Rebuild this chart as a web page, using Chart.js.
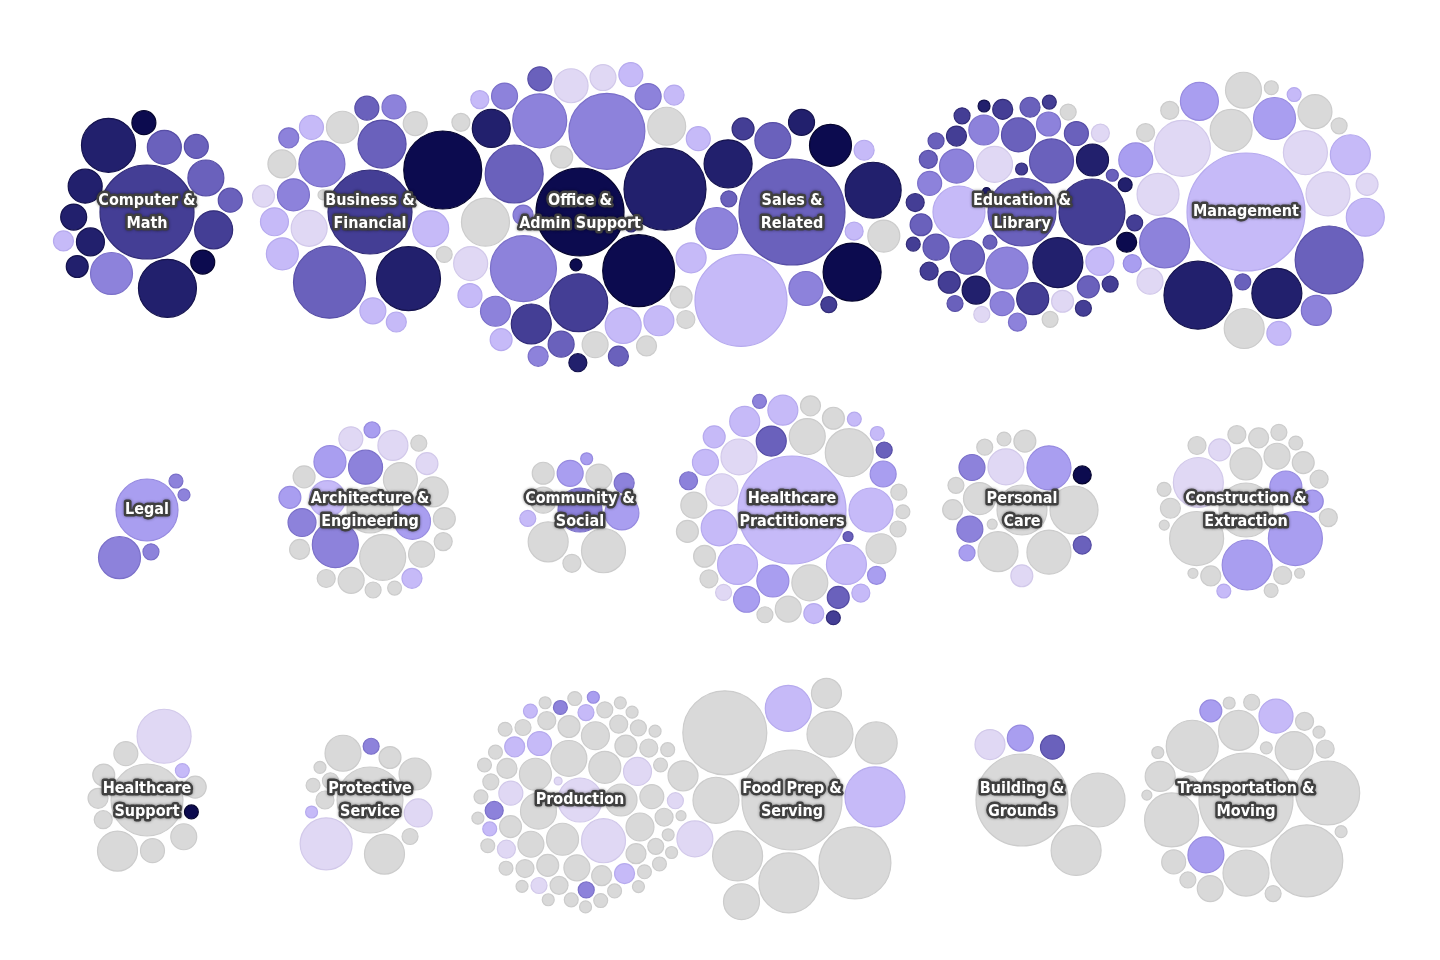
<!DOCTYPE html>
<html>
<head>
<meta charset="utf-8">
<title>Occupations by group</title>
<script src="https://cdn.jsdelivr.net/npm/chart.js@4.4.0/dist/chart.umd.min.js"></script>
<style>
  html, body { margin: 0; padding: 0; background: #fff; }
  #wrap { width: 1440px; height: 960px; }
</style>
</head>
<body>
<div id="wrap"><canvas id="chart" width="1440" height="960"></canvas></div>
<script>
// occupation groups, one cluster each
const categories = [
  'Computer &\nMath', 'Business &\nFinancial', 'Office &\nAdmin Support', 'Sales &\nRelated', 'Education &\nLibrary', 'Management',
  'Legal', 'Architecture &\nEngineering', 'Community &\nSocial', 'Healthcare\nPractitioners', 'Personal\nCare', 'Construction &\nExtraction',
  'Healthcare\nSupport', 'Protective\nService', 'Production', 'Food Prep &\nServing', 'Building &\nGrounds', 'Transportation &\nMoving'
];

// employment per occupation, thousands (bubble area)
const employment = [
  [1414, 538, 467, 77, 92, 125, 92, 64, 108, 92, 207, 185, 185, 92, 231, 282],
  [973, 1129, 829, 655, 369, 207, 125, 339, 125, 92, 108, 92, 77, 164, 92, 207, 164, 164, 64, 16, 64, 92],
  [1239, 697, 829, 538, 369, 185, 92, 77, 64, 231, 108, 23, 92, 64, 467, 144, 144, 144, 52, 108, 108, 52, 64, 1076, 924, 538, 256, 207, 185, 231, 108, 108, 52, 23, 41, 77, 92, 41, 92, 64, 64, 52, 77],
  [538, 369, 1354, 502, 282, 41, 108, 207, 185, 1798, 77, 164, 282, 52, 64],
  [400, 697, 207, 185, 185, 144, 185, 52, 23, 77, 164, 52, 31, 77, 31, 740, 52, 64, 92, 52, 92, 125, 41, 310, 41, 41, 52, 92, 77, 64, 164, 41, 92, 41, 23, 10, 41, 23, 41, 31, 31, 41, 41, 64, 282, 125, 433, 108, 77],
  [256, 400, 185, 310, 740, 92, 144, 207, 64, 231, 52, 31, 185, 310, 77, 52, 41, 282, 108, 282, 41, 231, 282, 502, 31, 2228, 256, 52, 400, 740],
  [615, 282, 41, 31, 23],
  [207, 77, 144, 185, 339, 207, 77, 41, 185, 164, 125, 339, 108, 64, 52, 77, 64, 108, 339, 77, 31, 41, 92, 52, 41, 144],
  [108, 310, 185, 108, 77, 310, 256, 23, 41, 64, 108, 52],
  [1866, 77, 207, 256, 310, 144, 64, 52, 108, 144, 77, 41, 256, 144, 41, 77, 41, 52, 144, 41, 207, 77, 108, 207, 52, 64, 31, 52, 164, 108, 31, 31, 16, 31, 31, 41, 77, 108, 207, 108, 164, 369],
  [207, 310, 310, 31, 108, 108, 52, 400, 369, 52, 77, 16, 41, 41, 256, 164, 41, 77, 64],
  [467, 467, 400, 400, 467, 164, 164, 52, 31, 77, 64, 16, 41, 16, 31, 64, 31, 108, 52, 52, 52, 77, 16, 31, 52, 77, 64],
  [467, 92, 77, 31, 256, 829, 77, 31, 52, 108, 92, 64],
  [207, 77, 41, 125, 23, 256, 41, 31, 433, 164, 697, 41, 52, 23],
  [125, 207, 92, 108, 52, 77, 92, 41, 31, 31, 41, 108, 31, 23, 310, 52, 77, 41, 23, 31,
   31, 23, 164, 77, 23, 23, 23, 31, 92, 31, 52, 41, 64, 41, 31, 41, 23, 31, 23, 31,
   41, 64, 31, 31, 64, 10, 125, 31, 52, 23, 16, 125, 52, 77, 31, 52, 31, 64, 310, 52,
   41, 23, 31, 64, 207, 23, 164, 164, 164, 41, 52, 23, 31],
  [576, 1600, 576, 339, 144, 1129, 339, 282, 144, 207, 400, 207, 829, 339],
  [400, 467, 92, 1354, 144, 108],
  [829, 207, 92, 52, 41, 108, 144, 655, 256, 41, 52, 41, 23, 1414, 467, 77, 23, 16, 339, 52, 23, 23, 23, 185, 433, 231]
];

// colour bin per occupation: 0 = darkest ... 7 = palest, 8 = grey
const riskBin = [
  [2, 1, 1, 1, 0, 1, 3, 6, 1, 3, 3, 3, 1, 0, 2, 4],
  [0, 2, 3, 1, 3, 7, 6, 4, 8, 8, 6, 6, 7, 4, 3, 6, 8, 6, 4, 8, 6, 4],
  [0, 4, 0, 3, 8, 7, 6, 8, 4, 1, 3, 0, 3, 3, 4, 6, 4, 6, 8, 8, 4, 6, 8, 1, 4, 2, 2, 6, 7, 8, 7, 4, 1, 2, 8, 8, 6, 3, 6, 6, 4, 8, 6],
  [0, 1, 6, 1, 4, 2, 1, 3, 4, 3, 2, 8, 0, 6, 6],
  [1, 2, 7, 3, 3, 4, 4, 2, 2, 7, 2, 3, 3, 3, 1, 3, 2, 2, 4, 4, 4, 1, 7, 3, 8, 8, 7, 3, 2, 2, 1, 3, 4, 2, 3, 1, 2, 1, 3, 2, 2, 2, 2, 3, 4, 6, 6, 3, 3],
  [8, 4, 8, 7, 1, 6, 4, 8, 0, 6, 5, 8, 5, 7, 7, 8, 3, 8, 7, 7, 8, 5, 5, 7, 6, 6, 6, 8, 1, 3],
  [5, 4, 4, 4, 4],
  [5, 7, 8, 8, 8, 6, 8, 8, 4, 5, 4, 4, 8, 6, 8, 8, 8, 8, 8, 5, 8, 5, 7, 8, 8, 7],
  [8, 4, 5, 5, 8, 8, 8, 5, 6, 4, 8, 8],
  [6, 3, 7, 6, 6, 3, 6, 5, 5, 8, 8, 7, 6, 6, 8, 8, 8, 4, 6, 8, 8, 8, 8, 8, 6, 8, 6, 8, 7, 6, 8, 4, 3, 6, 2, 3, 6, 8, 6, 5, 5, 8],
  [7, 8, 5, 8, 4, 4, 3, 8, 8, 0, 7, 8, 5, 8, 8, 8, 8, 8, 8],
  [8, 5, 5, 7, 8, 5, 8, 8, 8, 7, 8, 8, 8, 8, 6, 8, 8, 8, 8, 8, 8, 5, 8, 8, 8, 8, 8],
  [7, 8, 8, 0, 8, 8, 8, 6, 8, 8, 8, 8],
  [8, 8, 8, 7, 6, 8, 4, 8, 7, 8, 8, 8, 8, 8],
  [7, 8, 6, 8, 8, 8, 7, 6, 8, 4, 8, 8, 6, 8, 7, 8, 8, 4, 8, 8,
   8, 8, 8, 8, 8, 5, 8, 8, 8, 8, 8, 8, 8, 8, 8, 8, 8, 8, 8, 8,
   8, 8, 8, 8, 8, 7, 8, 6, 8, 8, 8, 8, 4, 8, 8, 8, 8, 6, 7, 8,
   7, 8, 8, 6, 8, 8, 8, 8, 8, 7, 7, 8, 8],
  [8, 8, 6, 8, 8, 8, 8, 8, 8, 7, 8, 8, 8, 6],
  [8, 8, 3, 8, 7, 5],
  [8, 5, 8, 8, 8, 8, 8, 8, 8, 8, 8, 8, 8, 8, 8, 5, 8, 8, 8, 8, 8, 8, 8, 6, 8, 8]
];

const binFill = ['#0c0b4f', '#22206d', '#443e95', '#6a61bc', '#8d82db', '#a99ef0', '#c6baf8', '#e0d8f4', '#d9d9d9'];
const binEdge = ['#06052f', '#15134e', '#322c78', '#574ea6', '#7b70c9', '#978be0', '#b6aaee', '#d2c9ea', '#cccccc'];

// ---- layout ----
const W = 1440, H = 960;
const colX = [147, 370, 580, 792, 1022, 1246];
const rowY = [212, 510, 800];
const anchors = categories.map((_, c) => ({ x: colX[c % 6], y: rowY[Math.floor(c / 6)] }));
const PAD = 3;
const radiusOf = v => 1.25 * Math.sqrt(v);

const nodes = [];
employment.forEach((list, c) => list.forEach((v, i) => {
  nodes.push({ c: c, i: i, bin: riskBin[c][i], v: v, r: radiusOf(v) });
}));
const order = nodes.slice().sort((a, b) => b.r - a.r);

// greedy packing: each bubble goes to the free spot nearest its group's anchor
const CELL = 40;
const grid = new Map();
const placed = [];
function addToGrid(p) {
  const i0 = Math.floor((p.x - p.r) / CELL), i1 = Math.floor((p.x + p.r) / CELL);
  const j0 = Math.floor((p.y - p.r) / CELL), j1 = Math.floor((p.y + p.r) / CELL);
  for (let i = i0; i <= i1; i++) {
    for (let j = j0; j <= j1; j++) {
      const k = i * 1000 + j;
      if (!grid.has(k)) grid.set(k, []);
      grid.get(k).push(p);
    }
  }
}
function fits(x, y, r) {
  const i0 = Math.floor((x - r - PAD) / CELL), i1 = Math.floor((x + r + PAD) / CELL);
  const j0 = Math.floor((y - r - PAD) / CELL), j1 = Math.floor((y + r + PAD) / CELL);
  for (let i = i0; i <= i1; i++) {
    for (let j = j0; j <= j1; j++) {
      const cell = grid.get(i * 1000 + j);
      if (!cell) continue;
      for (const p of cell) {
        const dx = p.x - x, dy = p.y - y, m = p.r + r + PAD - 0.01;
        if (dx * dx + dy * dy < m * m) return false;
      }
    }
  }
  return true;
}

for (const n of order) {
  const t = anchors[n.c];
  let spot = null;
  if (fits(t.x, t.y, n.r)) {
    spot = [t.x, t.y];
  } else {
    const near = placed.filter(p => Math.hypot(p.x - t.x, p.y - t.y) < 320);
    const cands = [];
    for (let a = 0; a < near.length; a++) {
      const A = near[a], ra = A.r + n.r + PAD;
      for (let k = 0; k < 24; k++) {
        const ang = k * Math.PI / 12;
        cands.push([A.x + ra * Math.cos(ang), A.y + ra * Math.sin(ang)]);
      }
      for (let b = a + 1; b < near.length; b++) {
        const B = near[b], rb = B.r + n.r + PAD;
        const dx = B.x - A.x, dy = B.y - A.y;
        const d2 = dx * dx + dy * dy, d = Math.sqrt(d2);
        if (d === 0 || d > ra + rb || d < Math.abs(ra - rb)) continue;
        const l = (ra * ra - rb * rb + d2) / (2 * d);
        const h = Math.sqrt(Math.max(0, ra * ra - l * l));
        const mx = A.x + dx * l / d, my = A.y + dy * l / d;
        cands.push([mx - dy * h / d, my + dx * h / d]);
        cands.push([mx + dy * h / d, my - dx * h / d]);
      }
    }
    cands.forEach(p => { p[2] = (p[0] - t.x) ** 2 + (p[1] - t.y) ** 2; });
    cands.sort((p, q) => p[2] - q[2]);
    for (const p of cands) {
      if (fits(p[0], p[1], n.r)) { spot = p; break; }
    }
    if (!spot) spot = [t.x, t.y + 400];
  }
  n.x = spot[0];
  n.y = spot[1];
  placed.push(n);
  addToGrid(n);
}

const datasets = categories.map((name, c) => {
  const pts = nodes.filter(n => n.c === c);
  return {
    label: name.replace('\n', ' '),
    data: pts.map(n => ({ x: n.x, y: n.y, r: n.r, employment: n.v })),
    backgroundColor: pts.map(n => binFill[n.bin]),
    borderColor: pts.map(n => binEdge[n.bin]),
    borderWidth: 1.2
  };
});

const labelPlugin = {
  id: 'groupLabels',
  afterDatasetsDraw(chart) {
    const ctx = chart.ctx;
    const xs = chart.scales.x, ys = chart.scales.y;
    ctx.save();
    ctx.font = 'bold 16px "DejaVu Sans Condensed", "Liberation Sans", sans-serif';
    ctx.textAlign = 'center';
    ctx.textBaseline = 'middle';
    ctx.lineJoin = 'round';
    categories.forEach((name, c) => {
      const lines = name.split('\n');
      const px = xs.getPixelForValue(anchors[c].x);
      const py = ys.getPixelForValue(anchors[c].y);
      lines.forEach((line, k) => {
        const ly = py + (k - (lines.length - 1) / 2) * 23;
        ctx.shadowColor = 'rgba(0,0,0,0.45)';
        ctx.shadowBlur = 3;
        ctx.strokeStyle = '#404040';
        ctx.lineWidth = 5;
        ctx.strokeText(line, px, ly);
        ctx.shadowBlur = 0;
        ctx.fillStyle = '#ffffff';
        ctx.fillText(line, px, ly);
      });
    });
    ctx.restore();
  }
};

new Chart(document.getElementById('chart'), {
  type: 'bubble',
  data: { datasets: datasets },
  options: {
    responsive: false,
    animation: false,
    events: [],
    layout: { padding: 0, autoPadding: false },
    scales: {
      x: { type: 'linear', min: 0, max: W, display: false },
      y: { type: 'linear', min: 0, max: H, reverse: true, display: false }
    },
    plugins: {
      legend: { display: false },
      tooltip: { enabled: false }
    }
  },
  plugins: [labelPlugin]
});
</script>
</body>
</html>
